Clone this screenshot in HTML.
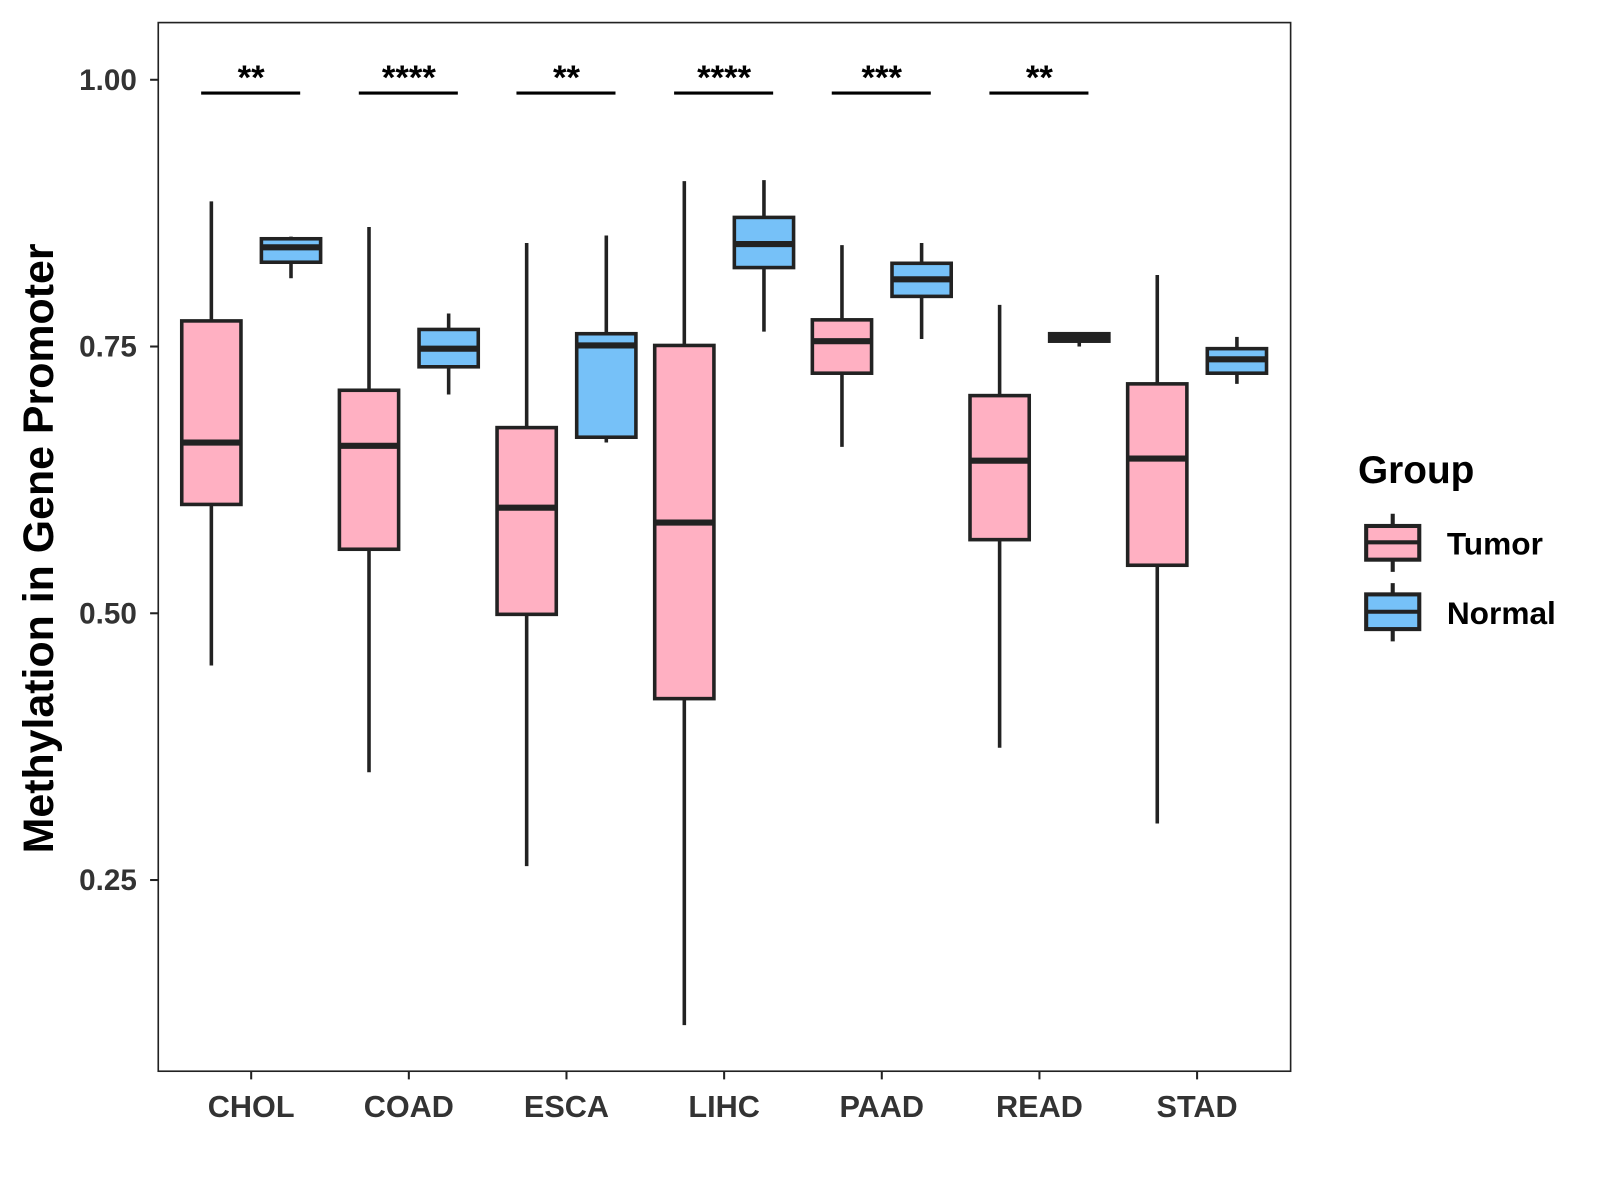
<!DOCTYPE html>
<html><head><meta charset="utf-8"><style>
html,body{margin:0;padding:0;background:#fff;}
svg{display:block;font-family:"Liberation Sans",Arial,sans-serif;font-weight:bold;}
</style></head><body>
<svg id="chart" width="1600" height="1200" viewBox="0 0 1567 1175">
<rect x="155" y="22" width="1109" height="1027" fill="#fff" stroke="#222" stroke-width="1.6"/>
<g id="yaxis"></g>
<g id="xaxis"></g>
<g id="boxes"></g>
<g id="sig"></g>
<text x="52" y="537" transform="rotate(-90 52 537)" text-anchor="middle" font-size="42" fill="#000">Methylation in Gene Promoter</text>
<g>
<text x="1330" y="473" font-size="38" fill="#000">Group</text>
<g>
<line x1="1364" y1="503" x2="1364" y2="560" stroke="#222" stroke-width="4"/>
<rect x="1338" y="515" width="52" height="33" fill="#FFB0C2" stroke="#222" stroke-width="4"/>
<line x1="1338" y1="531" x2="1390" y2="531" stroke="#222" stroke-width="4"/>
<text x="1417" y="543" font-size="31" fill="#000">Tumor</text>
</g>
<g>
<line x1="1364" y1="571" x2="1364" y2="628" stroke="#222" stroke-width="4"/>
<rect x="1338" y="582" width="52" height="34" fill="#76C1F8" stroke="#222" stroke-width="4"/>
<line x1="1338" y1="599" x2="1390" y2="599" stroke="#222" stroke-width="4"/>
<text x="1417" y="611" font-size="31" fill="#000">Normal</text>
</g>
</g>
</svg>
<script>
const categories=["CHOL","COAD","ESCA","LIHC","PAAD","READ","STAD"];
// [low, q1, median, q3, high]
const tumorStats=[
[0.451,0.602,0.660,0.774,0.886],
[0.351,0.560,0.657,0.709,0.862],
[0.263,0.499,0.599,0.674,0.847],
[0.114,0.420,0.585,0.751,0.905],
[0.656,0.725,0.755,0.775,0.845],
[0.374,0.569,0.643,0.704,0.789],
[0.303,0.545,0.645,0.715,0.817]];
const normalStats=[
[0.814,0.829,0.843,0.851,0.853],
[0.705,0.731,0.748,0.766,0.781],
[0.660,0.665,0.751,0.762,0.854],
[0.764,0.824,0.846,0.871,0.906],
[0.757,0.797,0.813,0.828,0.847],
[0.750,0.755,0.758,0.762,0.762],
[0.715,0.725,0.738,0.748,0.759]];
const sigLabels=["**","****","**","****","***","**",""];
const yTicks=[0.25,0.50,0.75,1.00];
const yTickLabels=["0.25","0.50","0.75","1.00"];

const NS="http://www.w3.org/2000/svg";
const y=v=>78+(1-v)*1045;
const x=i=>246+i*154.4;
function mk(tag,attrs,parent){const e=document.createElementNS(NS,tag);for(const k in attrs)e.setAttribute(k,attrs[k]);parent.appendChild(e);return e;}
const ya=document.getElementById('yaxis'),xa=document.getElementById('xaxis'),bx=document.getElementById('boxes'),sg=document.getElementById('sig');
yTicks.forEach((t,i)=>{
 const l=mk('line',{x1:147,x2:155,y1:y(t),y2:y(t),stroke:'#222','stroke-width':2},ya);
 
 
 const tx=mk('text',{x:134,y:y(t)+10,'text-anchor':'end','font-size':29,fill:'#333'},ya);
 tx.textContent=yTickLabels[i];
 
 
});
categories.forEach((c,i)=>{
 const l=mk('line',{x1:x(i),x2:x(i),y1:1049,y2:1057,stroke:'#222','stroke-width':2},xa);
 
 
 const tx=mk('text',{x:x(i),y:1094,'text-anchor':'middle','font-size':30,fill:'#333'},xa);
 tx.textContent=c;
 
 
});
function drawBox(s,cx,fill,name){
 const g=mk('g',{},bx);
 
 
 mk('line',{x1:cx,x2:cx,y1:y(s[0]),y2:y(s[4]),stroke:'#222','stroke-width':3.5},g);
 mk('rect',{x:cx-29,y:y(s[3]),width:58,height:Math.max(y(s[1])-y(s[3]),1),fill:fill,stroke:'#222','stroke-width':3.5},g);
 mk('line',{x1:cx-29,x2:cx+29,y1:y(s[2]),y2:y(s[2]),stroke:'#222','stroke-width':6},g);
}
categories.forEach((c,i)=>{
 drawBox(tumorStats[i],x(i)-39,'#FFB0C2','box-tumor-'+c.toLowerCase());
 drawBox(normalStats[i],x(i)+39,'#76C1F8','box-normal-'+c.toLowerCase());
 if(sigLabels[i]){
  const l=mk('line',{x1:x(i)-49,x2:x(i)+48,y1:91,y2:91,stroke:'#000','stroke-width':3},sg);
  
  
  const t=mk('text',{x:x(i),y:87,'text-anchor':'middle','font-size':34,fill:'#000'},sg);
  t.textContent=sigLabels[i];
  
  
 }
});
</script>
</body></html>
